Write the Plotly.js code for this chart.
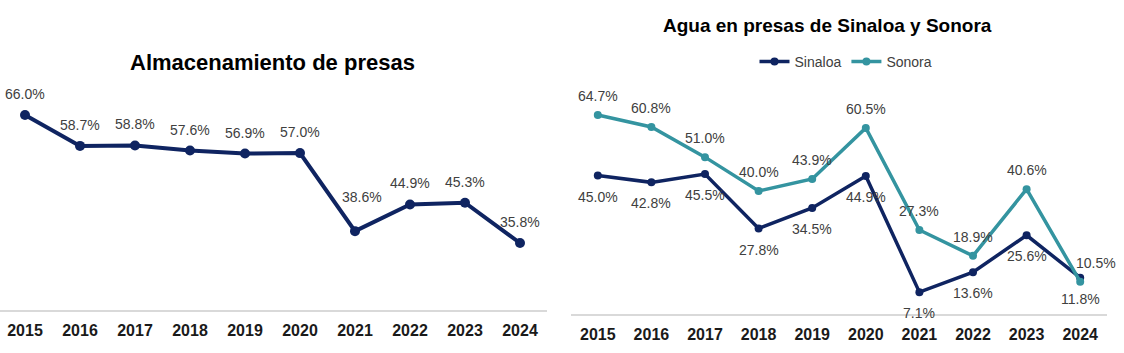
<!DOCTYPE html>
<html>
<head>
<meta charset="utf-8">
<script src="https://cdn.plot.ly/plotly-3.0.1.min.js"></script>
<style>html,body{margin:0;padding:0;background:#fff;}#chart{width:1124px;height:353px;}</style>
</head>
<body>
<div id="chart"></div>
<script>
// ---- data ----
const years = ['2015','2016','2017','2018','2019','2020','2021','2022','2023','2024'];
const almacenamiento = [66.0, 58.7, 58.8, 57.6, 56.9, 57.0, 38.6, 44.9, 45.3, 35.8];
const sinaloa = [45.0, 42.8, 45.5, 27.8, 34.5, 44.9, 7.1, 13.6, 25.6, 11.8];
const sonora  = [64.7, 60.8, 51.0, 40.0, 43.9, 60.5, 27.3, 18.9, 40.6, 10.5];
const titleLeft = 'Almacenamiento de presas';
const titleRight = 'Agua en presas de Sinaloa y Sonora';

// ---- styles ----
const NAVY = '#0f2461';
const TEAL = '#3494a0';
const LABEL = '#404040';
const FONT = 'Liberation Sans, Arial, sans-serif';
const W = 1124, H = 353;

const traces = [
  {x: years, y: almacenamiento, xaxis: 'x', yaxis: 'y', mode: 'lines+markers', name: 'Almacenamiento',
   showlegend: false, cliponaxis: false, hoverinfo: 'skip',
   line: {color: NAVY, width: 4}, marker: {color: NAVY, size: 10}},
  {x: years, y: sinaloa, xaxis: 'x2', yaxis: 'y2', mode: 'lines+markers', name: 'Sinaloa',
   cliponaxis: false, hoverinfo: 'skip',
   line: {color: NAVY, width: 3.5}, marker: {color: NAVY, size: 8}},
  {x: years, y: sonora, xaxis: 'x2', yaxis: 'y2', mode: 'lines+markers', name: 'Sonora',
   cliponaxis: false, hoverinfo: 'skip',
   line: {color: TEAL, width: 3.5}, marker: {color: TEAL, size: 8}}
];

const fmt = v => v.toFixed(1) + '%';
const annotations = [];
// left chart labels (x given as category index)
almacenamiento.forEach((v, i) => {
  let ys = 21, xs = 0;
  if (i === 6) { ys = 34; xs = 7; }
  annotations.push({x: i, y: v, xref: 'x', yref: 'y', text: fmt(v), showarrow: false,
    yshift: ys, xshift: xs, font: {family: FONT, size: 14, color: LABEL}});
});
// right chart labels: Sonora above, Sinaloa below
sonora.forEach((v, i) => {
  annotations.push({x: i, y: v, xref: 'x2', yref: 'y2', text: fmt(v), showarrow: false,
    yshift: 19, xshift: (i === 9 ? 16 : 0), font: {family: FONT, size: 14, color: LABEL}});
});
sinaloa.forEach((v, i) => {
  annotations.push({x: i, y: v, xref: 'x2', yref: 'y2', text: fmt(v), showarrow: false,
    yshift: -21, font: {family: FONT, size: 14, color: LABEL}});
});
// titles
annotations.push({xref: 'paper', yref: 'paper', x: 272 / W, y: 1 - 62 / H, xanchor: 'center', yanchor: 'middle',
  text: '<b>' + titleLeft + '</b>', showarrow: false, font: {family: FONT, size: 22, color: '#000000'}});
annotations.push({xref: 'paper', yref: 'paper', x: 827 / W, y: 1 - 25 / H, xanchor: 'center', yanchor: 'middle',
  text: '<b>' + titleRight + '</b>', showarrow: false, font: {family: FONT, size: 19, color: '#000000'}});

const xbase = {
  type: 'category', showgrid: false, zeroline: false, showline: true, linecolor: '#d9d9d9', linewidth: 1.5,
  ticks: '', ticklabelstandoff: 5, fixedrange: true,
  tickfont: {family: FONT, size: 16, color: '#1a1a1a', weight: 'bold'}
};
const ybase = {showgrid: false, zeroline: false, showline: false, showticklabels: false, ticks: '', fixedrange: true};

const layout = {
  width: W, height: H, margin: {l: 0, r: 0, t: 0, b: 0},
  paper_bgcolor: '#ffffff', plot_bgcolor: '#ffffff',
  font: {family: FONT, color: LABEL},
  showlegend: true,
  legend: {orientation: 'h', x: 846 / W, xanchor: 'center', y: 1 - 62 / H, yanchor: 'middle',
    font: {family: FONT, size: 14, color: LABEL}, bgcolor: 'rgba(0,0,0,0)', itemclick: false},
  xaxis: Object.assign({}, xbase, {domain: [0, 547 / W], range: [-25 / 55, -25 / 55 + 547 / 55], anchor: 'y'}),
  yaxis: Object.assign({}, ybase, {domain: [43 / H, 255 / H], range: [20, 70], anchor: 'x'}),
  xaxis2: Object.assign({}, xbase, {domain: [571 / W, 1107 / W], range: [-0.5, 9.5], anchor: 'y2'}),
  yaxis2: Object.assign({}, ybase, {domain: [39 / H, 254.3 / H], range: [0, 70], anchor: 'x2'}),
  annotations: annotations
};

Plotly.newPlot('chart', traces, layout, {staticPlot: true, displayModeBar: false});
</script>
</body>
</html>
